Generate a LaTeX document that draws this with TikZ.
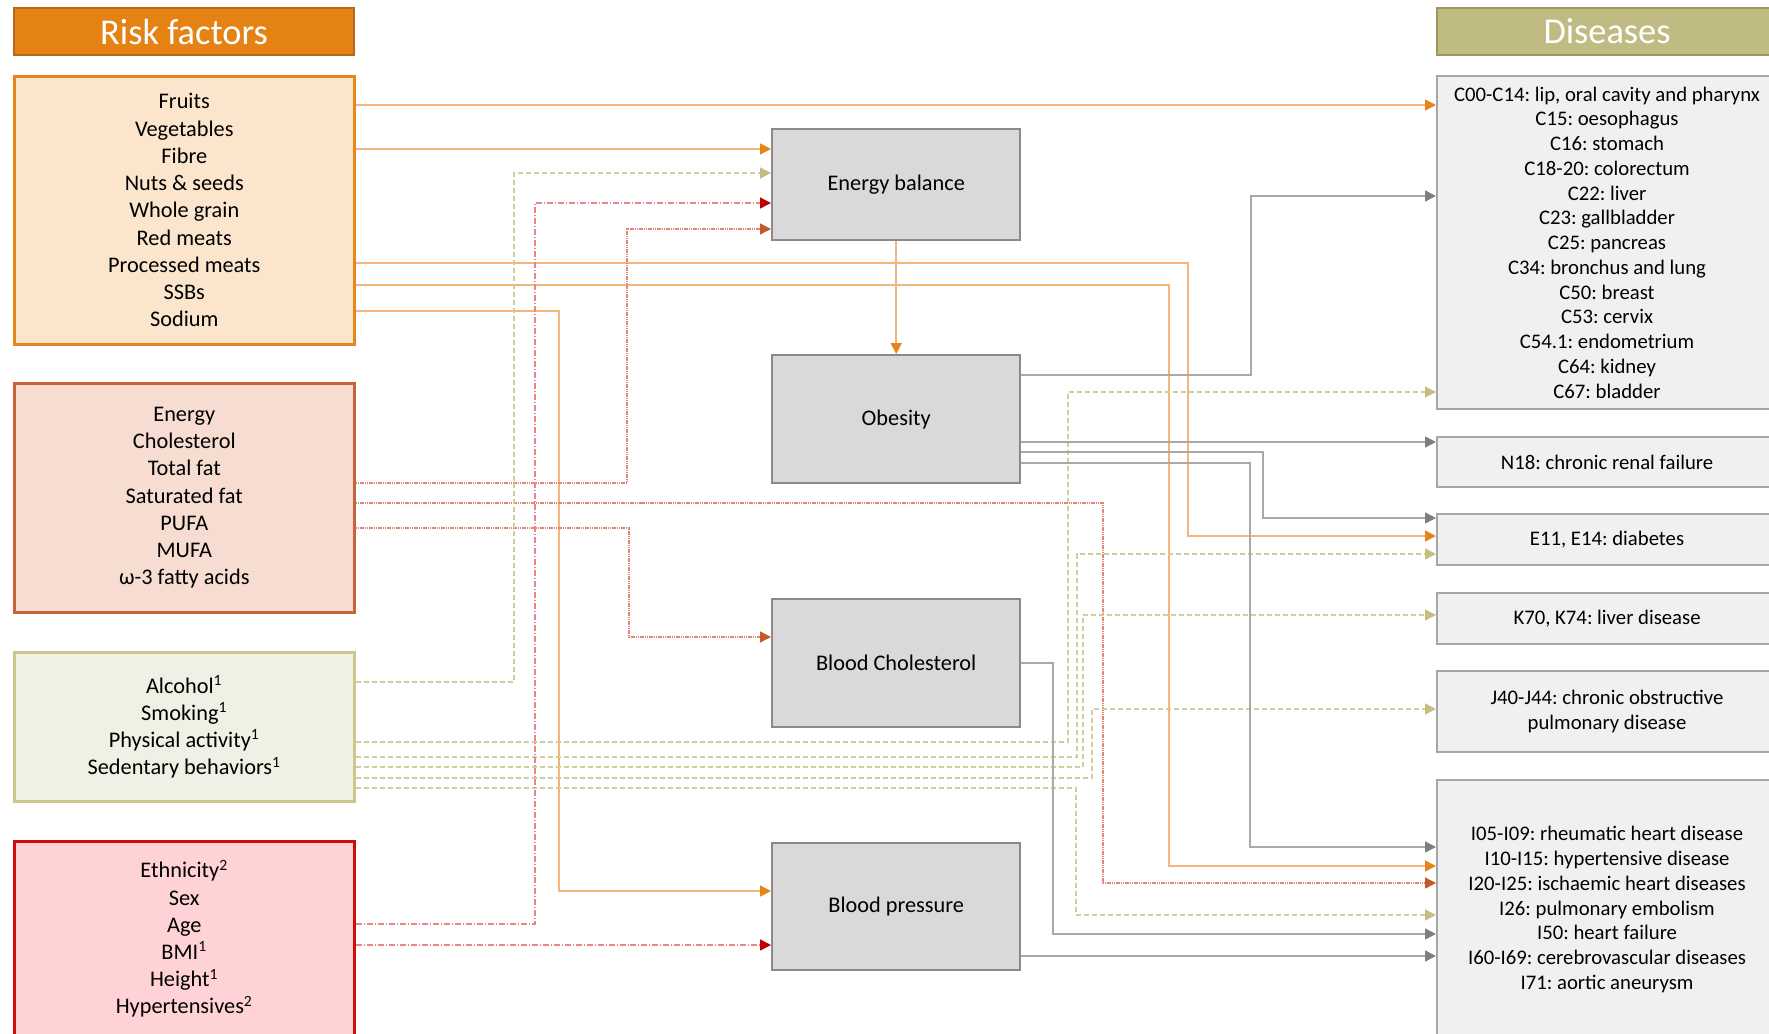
\documentclass[tikz,border=0pt]{standalone}
\usepackage{fontspec}
\setmainfont{Carlito}
\usepackage{tikz}
\usetikzlibrary{arrows.meta, positioning, calc}
\frenchspacing

\definecolor{foodfill}{HTML}{FBE5CD}
\definecolor{fooddraw}{HTML}{E8861E}
\definecolor{foodline}{HTML}{F4B47C}
\definecolor{foodtip}{HTML}{E8841A}
\definecolor{fatfill}{HTML}{F6DCD1}
\definecolor{fatdraw}{HTML}{C8643A}
\definecolor{fatline}{HTML}{E08672}
\definecolor{fattip}{HTML}{C55A28}
\definecolor{actfill}{HTML}{F0F0E4}
\definecolor{actdraw}{HTML}{CAC68E}
\definecolor{actline}{HTML}{CDD09A}
\definecolor{acttip}{HTML}{C4BE82}
\definecolor{demfill}{HTML}{FFD3D5}
\definecolor{demdraw}{HTML}{D00C0C}
\definecolor{demline}{HTML}{E9868C}
\definecolor{demtip}{HTML}{C00000}
\definecolor{medfill}{HTML}{D9D9D9}
\definecolor{meddraw}{HTML}{8A8A8A}
\definecolor{medline}{HTML}{A9A9A9}
\definecolor{medtip}{HTML}{7F7F7F}
\definecolor{disfill}{HTML}{F0F0F0}
\definecolor{disdraw}{HTML}{A6A6A6}
\definecolor{riskhead}{HTML}{E48314}
\definecolor{riskheaddraw}{HTML}{B9681C}
\definecolor{dishead}{HTML}{C0BB82}
\definecolor{disheaddraw}{HTML}{9D985A}

\begin{document}
\begin{tikzpicture}[x=0.02cm, y=-0.02cm,
    every node/.style={inner sep=0pt, align=center},
    headbox/.style={anchor=north west, line width=1.2pt, text=white, minimum width=6.8cm, minimum height=0.94cm, font=\fontsize{20.7}{24}\selectfont},
    riskbox/.style={anchor=north west, line width=1.5pt, minimum width=6.8cm, font=\fontsize{12.7}{15.5}\selectfont},
    medbox/.style={anchor=north west, draw=meddraw, fill=medfill, line width=1.4pt, minimum width=4.96cm, font=\fontsize{12.7}{15.5}\selectfont},
    disbox/.style={anchor=north west, draw=disdraw, fill=disfill, line width=1.2pt, minimum width=6.8cm, font=\fontsize{11.8}{14.1}\selectfont},
    tip/.style={-{Triangle[length=0.22cm, width=0.22cm, color=#1]}},
    foodarr/.style={draw=foodline, line width=0.9pt, tip=foodtip},
    fatarr/.style={draw=fatline, line width=0.8pt, dash pattern=on 0.03cm off 0.015cm, tip=fattip},
    actarr/.style={draw=actline, line width=0.8pt, dash pattern=on 0.1cm off 0.06cm, tip=acttip},
    demarr/.style={draw=demline, line width=0.8pt, dash pattern=on 0.12cm off 0.04cm on 0.02cm off 0.04cm, tip=demtip},
    medarr/.style={draw=medline, line width=0.9pt, tip=medtip}]
    \useasboundingbox (0,0) rectangle (1769,1034);
    % ---- headers ----
    \node[headbox, fill=riskhead, draw=riskheaddraw] (riskhd) at (13,7) {Risk factors};
    \node[headbox, fill=dishead, draw=disheaddraw] (dishd) at (1436,7) {Diseases};
    % ---- risk factors ----
    \node[riskbox, fill=foodfill, draw=fooddraw, minimum height=5.36cm] (food) at (13,75)
        {Fruits\\Vegetables\\Fibre\\Nuts \& seeds\\Whole grain\\Red meats\\Processed meats\\SSBs\\Sodium};
    \node[riskbox, fill=fatfill, draw=fatdraw, minimum height=4.58cm] (fat) at (13,382)
        {Energy\\Cholesterol\\Total fat\\Saturated fat\\PUFA\\MUFA\\ω-3 fatty acids};
    \node[riskbox, fill=actfill, draw=actdraw, minimum height=2.98cm] (act) at (13,651)
        {Alcohol\textsuperscript{1}\\Smoking\textsuperscript{1}\\Physical activity\textsuperscript{1}\\Sedentary behaviors\textsuperscript{1}};
    \node[riskbox, fill=demfill, draw=demdraw, minimum height=3.9cm] (demog) at (13,840)
        {Ethnicity\textsuperscript{2}\\Sex\\Age\\BMI\textsuperscript{1}\\Height\textsuperscript{1}\\Hypertensives\textsuperscript{2}};
    % ---- mediators ----
    \node[medbox, minimum height=2.22cm] (eb) at (771,128) {Energy balance};
    \node[medbox, minimum height=2.56cm] (obes) at (771,354) {Obesity};
    \node[medbox, minimum height=2.56cm] (chol) at (771,598) {Blood Cholesterol};
    \node[medbox, minimum height=2.54cm] (bp) at (771,842) {Blood pressure};
    % ---- diseases ----
    \node[disbox, minimum height=6.66cm] (cancer) at (1436,75)
        {C00-C14: lip, oral cavity and pharynx\\C15: oesophagus\\C16: stomach\\C18-20: colorectum\\C22: liver\\C23: gallbladder\\C25: pancreas\\C34: bronchus and lung\\C50: breast\\C53: cervix\\C54.1: endometrium\\C64: kidney\\C67: bladder};
    \node[disbox, minimum height=1cm] (renal) at (1436,436) {N18: chronic renal failure};
    \node[disbox, minimum height=1.02cm] (diab) at (1436,513) {E11, E14: diabetes};
    \node[disbox, minimum height=1.02cm] (liver) at (1436,592) {K70, K74: liver disease};
    \node[disbox, minimum height=1.62cm] (copd) at (1436,670) {J40-J44: chronic obstructive\\pulmonary disease};
    \node[disbox, minimum height=5.18cm] (card) at (1436,779)
        {I05-I09: rheumatic heart disease\\I10-I15: hypertensive disease\\I20-I25: ischaemic heart diseases\\I26: pulmonary embolism\\I50: heart failure\\I60-I69: cerebrovascular diseases\\I71: aortic aneurysm};
    % ---- food ----
    \draw[foodarr] (food.east |- 0,105) -- (cancer.west |- 0,105);
    \draw[foodarr] (food.east |- 0,149) -- (eb.west |- 0,149);
    \draw[foodarr] (food.east |- 0,263) -| (1188,536) -- (diab.west |- 0,536);
    \draw[foodarr] (food.east |- 0,285) -| (1169,866) -- (card.west |- 0,866);
    \draw[foodarr] (food.east |- 0,311) -| (559,891) -- (bp.west |- 0,891);
    \draw[foodarr] (eb.south) -- (obes.north);
    % ---- fats ----
    \draw[fatarr] (fat.east |- 0,483) -| (627,229) -- (eb.west |- 0,229);
    \draw[fatarr] (fat.east |- 0,503) -| (1103,883) -- (card.west |- 0,883);
    \draw[fatarr] (fat.east |- 0,528) -| (629,637) -- (chol.west |- 0,637);
    % ---- lifestyle ----
    \draw[actarr] (act.east |- 0,682) -| (514,173) -- (eb.west |- 0,173);
    \foreach \ya/\xb/\yb/\dst in {742/1068/392/cancer, 757/1077/554/diab, 767/1083/615/liver, 778/1092/709/copd, 788/1076/915/card}
        \draw[actarr] (act.east |- 0,\ya) -| (\xb,\yb) -- (\dst.west |- 0,\yb);
    % ---- demographics ----
    \draw[demarr] (demog.east |- 0,924) -| (535,203) -- (eb.west |- 0,203);
    \draw[demarr] (demog.east |- 0,945) -- (bp.west |- 0,945);
    % ---- mediators to diseases ----
    \draw[medarr] (obes.east |- 0,375) -| (1251,196) -- (cancer.west |- 0,196);
    \draw[medarr] (obes.east |- 0,442) -- (renal.west |- 0,442);
    \draw[medarr] (obes.east |- 0,452) -| (1263,518) -- (diab.west |- 0,518);
    \draw[medarr] (obes.east |- 0,463) -| (1250,847) -- (card.west |- 0,847);
    \draw[medarr] (chol.east |- 0,663) -| (1053,934) -- (card.west |- 0,934);
    \draw[medarr] (bp.east |- 0,956) -- (card.west |- 0,956);
\end{tikzpicture}
\end{document}
